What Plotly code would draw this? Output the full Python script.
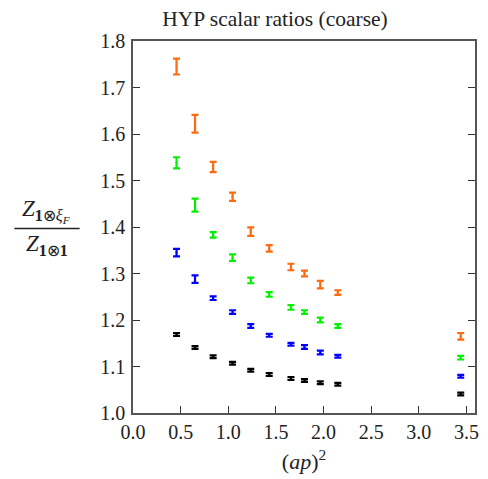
import plotly.graph_objects as go

ap2 = [0.457, 0.651, 0.841, 1.045, 1.236, 1.43, 1.658, 1.80, 1.966, 2.15, 3.44]

orange = [1.745, 1.622, 1.529, 1.465, 1.390, 1.354, 1.314, 1.300, 1.276, 1.259, 1.165]
orange_err = [0.017, 0.019, 0.011, 0.009, 0.009, 0.007, 0.007, 0.006, 0.008, 0.005, 0.007]
green = [1.538, 1.447, 1.383, 1.334, 1.285, 1.255, 1.227, 1.217, 1.200, 1.187, 1.119]
green_err = [0.012, 0.014, 0.006, 0.007, 0.006, 0.005, 0.005, 0.004, 0.005, 0.004, 0.004]
blue = [1.345, 1.288, 1.247, 1.217, 1.187, 1.167, 1.148, 1.142, 1.130, 1.122, 1.079]
blue_err = [0.008, 0.008, 0.004, 0.004, 0.004, 0.003, 0.003, 0.004, 0.004, 0.003, 0.003]
black = [1.169, 1.141, 1.121, 1.107, 1.092, 1.083, 1.074, 1.070, 1.065, 1.062, 1.041]
black_err = [0.003, 0.003, 0.003, 0.003, 0.003, 0.003, 0.003, 0.003, 0.003, 0.003, 0.003]

x_ticks = [0, 0.5, 1, 1.5, 2, 2.5, 3, 3.5]
x_ticklabels = ["0.0", "0.5", "1.0", "1.5", "2.0", "2.5", "3.0", "3.5"]
y_ticks = [1.0, 1.1, 1.2, 1.3, 1.4, 1.5, 1.6, 1.7, 1.8]
y_ticklabels = ["1.0", "1.1", "1.2", "1.3", "1.4", "1.5", "1.6", "1.7", "1.8"]

series = [
    (orange, orange_err, "#ff6a10"),
    (green, green_err, "#00f000"),
    (blue, blue_err, "#0000ff"),
    (black, black_err, "#000000"),
]

FONT = "Liberation Serif"

fig = go.Figure()
for vals, errs, col in series:
    fig.add_trace(go.Scatter(
        x=ap2, y=vals, mode="markers",
        marker=dict(color=col, size=2),
        error_y=dict(type="data", array=errs, visible=True, color=col,
                     thickness=2.2, width=3.5),
        showlegend=False,
    ))

L, R, T, B = 133, 9, 41, 65
W, H = 488, 479
pw, ph = W - L - R, H - T - B

def px(xp):
    return (xp - L) / pw

def py(yp):
    return (H - B - yp) / ph

axis_common = dict(
    showgrid=False, zeroline=False, showline=True, linecolor="#555555",
    linewidth=1.5, ticks="inside", ticklen=7, tickwidth=1.2, tickcolor="#333333",
    tickfont=dict(family=FONT, size=20, color="#222222"),
)

fig.update_layout(
    width=W, height=H,
    margin=dict(l=L, r=R, t=T, b=B),
    paper_bgcolor="white", plot_bgcolor="white",
    font=dict(family=FONT, color="#222222"),
    title=dict(text="HYP scalar ratios (coarse)", x=275 / W, xanchor="center",
               y=1 - 18 / H, yanchor="middle", xref="container", yref="container",
               font=dict(family=FONT, size=21.5, color="#222222")),
    xaxis=dict(range=[0, 3.59], tickvals=x_ticks, ticktext=x_ticklabels,
               mirror=True,
               title=dict(text="(<i>ap</i>)<sup>2</sup>", standoff=12,
                          font=dict(family=FONT, size=22, color="#222222")),
               **axis_common),
    yaxis=dict(range=[1.0, 1.8], tickvals=y_ticks, ticktext=y_ticklabels,
               mirror="ticks", ticklabelstandoff=2, **axis_common),
)

fig.add_annotation(text="<i>Z</i><sub><b>1</b>⊗<i>ξ</i><sub><i>F</i></sub></sub>",
                   xref="paper", yref="paper", x=px(45), y=py(211),
                   xanchor="center", yanchor="middle", showarrow=False,
                   font=dict(family=FONT, size=23, color="#222222"))
fig.add_annotation(text="<i>Z</i><sub><b>1</b>⊗<b>1</b></sub>",
                   xref="paper", yref="paper", x=px(46), y=py(246),
                   xanchor="center", yanchor="middle", showarrow=False,
                   font=dict(family=FONT, size=23, color="#222222"))
fig.add_shape(type="line", xref="paper", yref="paper",
              x0=px(13), x1=px(79), y0=py(229), y1=py(229),
              line=dict(color="#222222", width=1.3))

fig.write_html("out.html")
